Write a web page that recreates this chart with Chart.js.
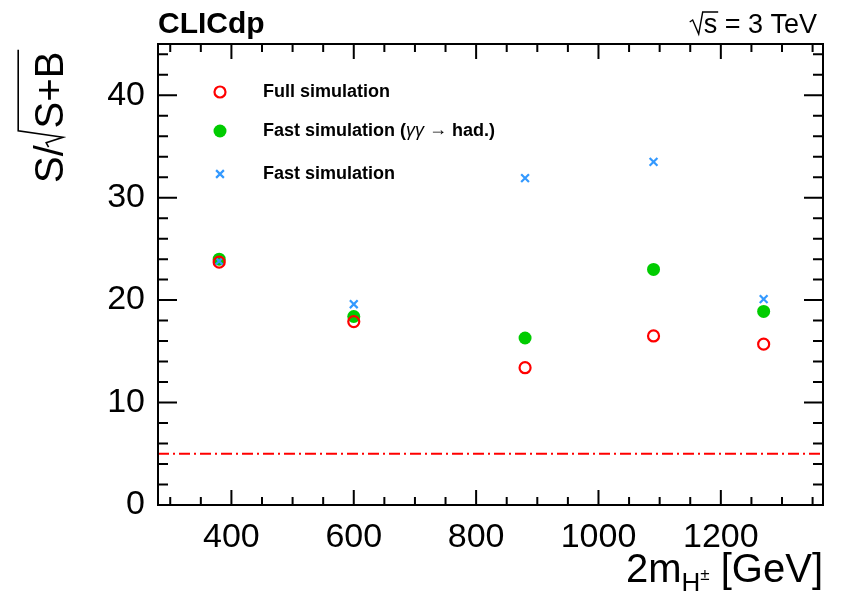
<!DOCTYPE html>
<html>
<head>
<meta charset="utf-8">
<script src="https://cdn.jsdelivr.net/npm/chart.js@4.4.1/dist/chart.umd.min.js"></script>
<style>
  html, body { margin: 0; padding: 0; background: #fff; }
  #wrap { width: 841px; height: 594px; }
</style>
</head>
<body>
<div id="wrap"><canvas id="chart" width="841" height="594"></canvas></div>
<script>
// ---------------- Data ----------------
const massPoints = [380, 600, 880, 1090, 1270];          // 2 m_H± [GeV]
const fullSim = [23.7, 17.9, 13.4, 16.5, 15.7];
const fastSimGG = [24.0, 18.4, 16.3, 23.0, 18.9];
const fastSim = [23.8, 19.6, 31.9, 33.5, 20.1];
const discoveryLevel = 5;

const xTickValues = [400, 600, 800, 1000, 1200];
const yTickValues = [0, 10, 20, 30, 40];
const xRange = [280, 1367];
const yRange = [0, 45];

const legendLabels = ['Full simulation', 'Fast simulation (γγ → had.)', 'Fast simulation'];

const RED = '#ff0000';
const GREEN = '#00cc00';
const BLUE = '#3399ff';
const FONT = '"Liberation Sans", Arial, sans-serif';

const toXY = ys => massPoints.map((x, i) => ({ x, y: ys[i] }));

// ---------------- Frame + ROOT style ticks ----------------
const frameTicks = {
  id: 'frameTicks',
  afterDraw(chart) {
    const { ctx, chartArea: a } = chart;
    const xs = chart.scales.x, ys = chart.scales.y;
    ctx.save();
    ctx.strokeStyle = '#000';
    ctx.lineWidth = 2;
    ctx.strokeRect(a.left, a.top, a.right - a.left, a.bottom - a.top);

    // y ticks, left and right
    for (let v = 0; v <= yRange[1]; v += 2) {
      const y = ys.getPixelForValue(v);
      const len = v % 10 === 0 ? 19 : 10;
      ctx.beginPath();
      ctx.moveTo(a.left, y); ctx.lineTo(a.left + len, y);
      ctx.moveTo(a.right, y); ctx.lineTo(a.right - len, y);
      ctx.stroke();
    }
    // x ticks, bottom and top
    for (let v = 300; v < xRange[1]; v += 50) {
      const x = xs.getPixelForValue(v);
      const len = v % 200 === 0 ? 15 : 8;
      ctx.beginPath();
      ctx.moveTo(x, a.bottom); ctx.lineTo(x, a.bottom - len);
      ctx.moveTo(x, a.top); ctx.lineTo(x, a.top + len);
      ctx.stroke();
    }
    ctx.restore();
  }
};

// ---------------- Titles + legend ----------------
const annotations = {
  id: 'annotations',
  afterDraw(chart) {
    const { ctx, chartArea: a } = chart;
    ctx.save();
    ctx.fillStyle = '#000';
    ctx.strokeStyle = '#000';

    // CLICdp label
    ctx.font = `bold 30px ${FONT}`;
    ctx.textAlign = 'left';
    ctx.textBaseline = 'alphabetic';
    ctx.fillText('CLICdp', a.left, 33);

    // sqrt(s) = 3 TeV
    ctx.font = `27px ${FONT}`;
    ctx.textAlign = 'right';
    const rest = ' = 3 TeV';
    const restW = ctx.measureText(rest).width;
    const sW = ctx.measureText('s').width;
    const rightX = a.right - 6;
    ctx.fillText(rest, rightX, 33);
    ctx.textAlign = 'left';
    const sX = rightX - restW - sW;
    ctx.fillText('s', sX, 33);
    ctx.lineWidth = 1.4;
    ctx.beginPath();
    ctx.moveTo(sX - 14, 22);
    ctx.lineTo(sX - 11, 20);
    ctx.lineTo(sX - 5, 34);
    ctx.lineTo(sX - 1, 12);
    ctx.lineTo(sX + sW + 1, 12);
    ctx.stroke();

    // y axis title: S/sqrt(S+B)
    const fs = 40;
    ctx.save();
    ctx.translate(63, 183);
    ctx.rotate(-Math.PI / 2);
    ctx.font = `${fs}px ${FONT}`;
    ctx.textAlign = 'left';
    ctx.fillText('S/', 0, 0);
    const w1 = ctx.measureText('S/').width;
    const wSB = ctx.measureText('S+B').width;
    ctx.lineWidth = 1.6;
    ctx.beginPath();
    ctx.moveTo(w1 - 2, -0.36 * fs);
    ctx.lineTo(w1 + 0.06 * fs, -0.42 * fs);
    ctx.lineTo(w1 + 0.2 * fs, 0);
    ctx.lineTo(w1 + 0.36 * fs, -1.12 * fs);
    ctx.lineTo(w1 + 0.42 * fs + wSB + 2, -1.12 * fs);
    ctx.stroke();
    ctx.fillText('S+B', w1 + 0.42 * fs, 0);
    ctx.restore();

    // x axis title: 2m_{H±} [GeV]
    const base = 582;
    const parts = [
      { t: '2m', f: `40px ${FONT}`, dy: 0 },
      { t: 'H', f: `26px ${FONT}`, dy: 9 },
      { t: '±', f: `17px ${FONT}`, dy: -2 },
      { t: ' [GeV]', f: `40px ${FONT}`, dy: 0 }
    ];
    let total = 0;
    parts.forEach(p => { ctx.font = p.f; p.w = ctx.measureText(p.t).width; total += p.w; });
    let x = a.right - total;
    ctx.textAlign = 'left';
    parts.forEach(p => { ctx.font = p.f; ctx.fillText(p.t, x, base + p.dy); x += p.w; });

    // legend
    const rows = [
      { y: 92, style: 'circle', r: 5.5, fill: 'rgba(0,0,0,0)', stroke: RED, lw: 2.2,
        parts: [{ t: legendLabels[0], f: `bold 18px ${FONT}` }] },
      { y: 131, style: 'circle', r: 6.5, fill: GREEN, stroke: GREEN, lw: 0,
        parts: [
          { t: 'Fast simulation (', f: `bold 18px ${FONT}` },
          { t: 'γγ', f: `italic 18px ${FONT}` },
          { t: ' → ', f: `18px ${FONT}`, dy: -1 },
          { t: 'had.)', f: `bold 18px ${FONT}` }
        ] },
      { y: 174, style: 'crossRot', r: 5.5, fill: BLUE, stroke: BLUE, lw: 2.2,
        parts: [{ t: legendLabels[2], f: `bold 18px ${FONT}` }] }
    ];
    rows.forEach(row => {
      ctx.fillStyle = row.fill;
      ctx.strokeStyle = row.stroke;
      ctx.lineWidth = row.lw;
      Chart.helpers.drawPoint(ctx, { pointStyle: row.style, radius: row.r, borderWidth: row.lw }, 220, row.y);
      ctx.fillStyle = '#000';
      ctx.textBaseline = 'middle';
      let lx = 263;
      row.parts.forEach(p => {
        ctx.font = p.f;
        ctx.fillText(p.t, lx, row.y + (p.dy || 0));
        lx += ctx.measureText(p.t).width;
      });
    });
    ctx.restore();
  }
};

// ---------------- Chart ----------------
new Chart(document.getElementById('chart'), {
  type: 'scatter',
  data: {
    datasets: [
      {
        label: legendLabels[0],
        data: toXY(fullSim),
        pointStyle: 'circle',
        pointRadius: 5.5,
        pointBorderWidth: 2.2,
        borderColor: RED,
        backgroundColor: 'rgba(0,0,0,0)',
        order: 0
      },
      {
        label: legendLabels[2],
        data: toXY(fastSim),
        pointStyle: 'crossRot',
        pointRadius: 5.5,
        pointBorderWidth: 2.2,
        borderColor: BLUE,
        backgroundColor: BLUE,
        order: 1
      },
      {
        label: legendLabels[1],
        data: toXY(fastSimGG),
        pointStyle: 'circle',
        pointRadius: 6.5,
        pointBorderWidth: 0,
        borderColor: GREEN,
        backgroundColor: GREEN,
        order: 2
      },
      {
        label: '5 sigma',
        data: xRange.map(x => ({ x, y: discoveryLevel })),
        showLine: true,
        borderColor: RED,
        borderWidth: 2,
        borderDash: [11, 4, 2, 4],
        pointRadius: 0,
        order: 3
      }
    ]
  },
  options: {
    responsive: false,
    animation: false,
    devicePixelRatio: 1,
    layout: { padding: { top: 44, right: 18, left: 0, bottom: 0 } },
    plugins: { legend: { display: false }, tooltip: { enabled: false } },
    scales: {
      x: {
        type: 'linear',
        min: xRange[0],
        max: xRange[1],
        grid: { display: false, drawTicks: false },
        border: { display: false },
        afterBuildTicks: s => { s.ticks = xTickValues.map(value => ({ value })); },
        afterFit: s => { s.height = 89; },
        ticks: {
          color: '#000', font: { family: FONT, size: 34 }, padding: 12, maxRotation: 0,
          callback: v => String(v)
        }
      },
      y: {
        type: 'linear',
        min: yRange[0],
        max: yRange[1],
        grid: { display: false, drawTicks: false },
        border: { display: false },
        afterBuildTicks: s => { s.ticks = yTickValues.map(value => ({ value })); },
        afterFit: s => { s.width = 158; },
        ticks: {
          color: '#000', font: { family: FONT, size: 34 }, padding: 13,
          callback: v => String(v)
        }
      }
    }
  },
  plugins: [frameTicks, annotations]
});
</script>
</body>
</html>
